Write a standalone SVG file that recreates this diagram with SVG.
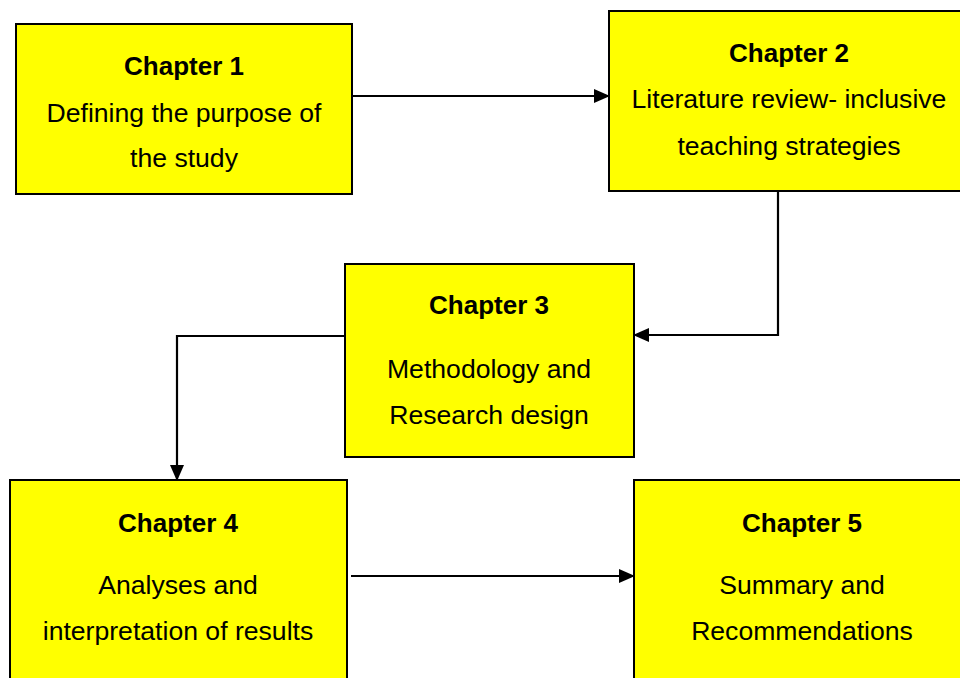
<svg xmlns="http://www.w3.org/2000/svg" width="960" height="678" viewBox="0 0 960 678">
<style>
.box{fill:#ffff00;stroke:#000;stroke-width:2}
.t{font-family:"Liberation Sans",Arial,sans-serif;font-size:26.6px;fill:#000;text-anchor:middle}
.b{font-weight:bold;font-size:26px}
.c{fill:none;stroke:#000;stroke-width:2.2}
</style>
<defs>
<marker id="ah" markerWidth="16" markerHeight="14" refX="15" refY="7" orient="auto" markerUnits="userSpaceOnUse">
<path d="M0,0 L16,7 L0,14 Z" fill="#000"/>
</marker>
</defs>
<rect width="960" height="678" fill="#fff"/>
<g id="connectors">
<path class="c" d="M352,96 H609" marker-end="url(#ah)"/>
<path class="c" d="M778,191 V335 H634" marker-end="url(#ah)"/>
<path class="c" d="M345,336 H177 V480" marker-end="url(#ah)"/>
<path class="c" d="M351,576 H634" marker-end="url(#ah)"/>
</g>
<g id="node1">
<rect class="box" x="16" y="24" width="336" height="170"/>
<text class="t b" x="184" y="75">Chapter 1</text>
<text class="t" x="184" y="122">Defining the purpose of</text>
<text class="t" x="184" y="167">the study</text>
</g>
<g id="node2">
<rect class="box" x="609" y="11" width="360" height="180"/>
<text class="t b" x="789" y="62">Chapter 2</text>
<text class="t" x="789" y="108">Literature review- inclusive</text>
<text class="t" x="789" y="155">teaching strategies</text>
</g>
<g id="node3">
<rect class="box" x="345" y="264" width="289" height="193"/>
<text class="t b" x="489" y="314">Chapter 3</text>
<text class="t" x="489" y="378">Methodology and</text>
<text class="t" x="489" y="424">Research design</text>
</g>
<g id="node4">
<rect class="box" x="10" y="480" width="337" height="210"/>
<text class="t b" x="178" y="532">Chapter 4</text>
<text class="t" x="178" y="594">Analyses and</text>
<text class="t" x="178" y="640">interpretation of results</text>
</g>
<g id="node5">
<rect class="box" x="634" y="480" width="340" height="210"/>
<text class="t b" x="802" y="532">Chapter 5</text>
<text class="t" x="802" y="594">Summary and</text>
<text class="t" x="802" y="640">Recommendations</text>
</g>
</svg>
